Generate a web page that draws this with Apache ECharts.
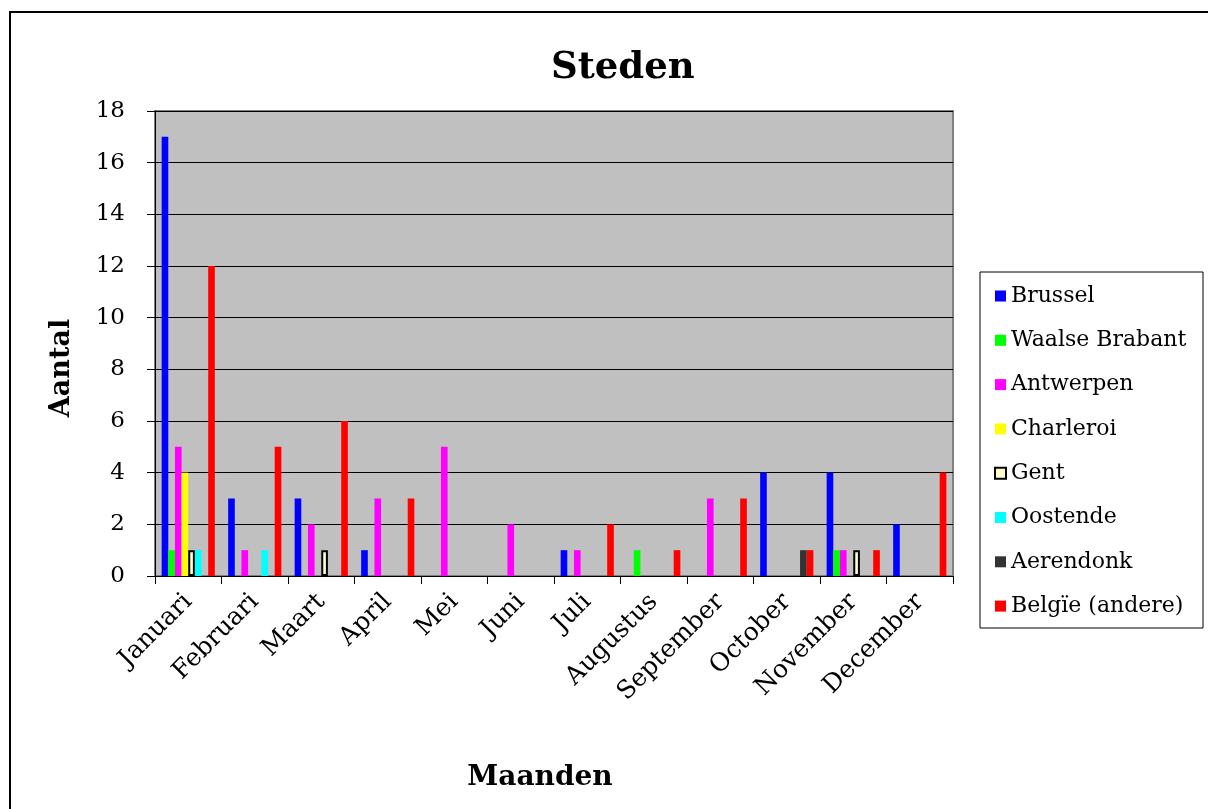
<!DOCTYPE html>
<html>
<head>
<meta charset="utf-8">
<title>Steden</title>
<script src="https://cdn.jsdelivr.net/npm/echarts@6/dist/echarts.min.js"></script>
<style>
  html, body { margin: 0; padding: 0; background: #fff; }
  #main { width: 1208px; height: 809px; }
</style>
</head>
<body>
<div id="main"></div>
<script>
// months on the x axis
var maanden = ['Januari', 'Februari', 'Maart', 'April', 'Mei', 'Juni', 'Juli',
  'Augustus', 'September', 'October', 'November', 'December'];

// counts per city, one value per month
var brussel       = [17, 3, 3, 1, 0, 0, 1, 0, 0, 4, 4, 2];
var waalseBrabant = [1, 0, 0, 0, 0, 0, 0, 1, 0, 0, 1, 0];
var antwerpen     = [5, 1, 2, 3, 5, 2, 1, 0, 3, 0, 1, 0];
var charleroi     = [4, 0, 0, 0, 0, 0, 0, 0, 0, 0, 0, 0];
var gent          = [1, 0, 1, 0, 0, 0, 0, 0, 0, 0, 1, 0];
var oostende      = [1, 1, 0, 0, 0, 0, 0, 0, 0, 0, 0, 0];
var aerendonk     = [0, 0, 0, 0, 0, 0, 0, 0, 0, 1, 0, 0];
var belgieAndere  = [12, 5, 6, 3, 0, 0, 2, 1, 3, 1, 1, 4];

var yTicks = [0, 2, 4, 6, 8, 10, 12, 14, 16, 18];

var FONT = 'DejaVu Serif';

var steden = [
  { name: 'Brussel', data: brussel, color: '#0000FF' },
  { name: 'Waalse Brabant', data: waalseBrabant, color: '#00FF00' },
  { name: 'Antwerpen', data: antwerpen, color: '#FF00FF' },
  { name: 'Charleroi', data: charleroi, color: '#FFFF00' },
  { name: 'Gent', data: gent, color: '#FFFFCC', border: '#000000' },
  { name: 'Oostende', data: oostende, color: '#00FFFF' },
  { name: 'Aerendonk', data: aerendonk, color: '#333333' },
  { name: 'Belgïe (andere)', data: belgieAndere, color: '#FF0000' }
];

var myChart = echarts.init(document.getElementById('main'));

var series = steden.map(function (s) {
  var style = { color: s.color };
  if (s.border) {
    style.borderColor = s.border;
    style.borderWidth = 2;
  }
  return {
    name: s.name,
    type: 'bar',
    barGap: 0,
    barCategoryGap: '20%',
    itemStyle: style,
    // zero counts are not drawn in the original
    data: s.data.map(function (v) { return v === 0 ? '-' : v; })
  };
});

var legendData = steden.map(function (s) {
  if (s.border) {
    return { name: s.name, itemStyle: { color: s.color, borderColor: s.border, borderWidth: 2 } };
  }
  return { name: s.name, itemStyle: { color: s.color, borderWidth: 0 } };
});

var option = {
  backgroundColor: '#ffffff',
  animation: false,
  title: {
    text: 'Steden',
    left: 546,
    top: 45,
    textStyle: { fontFamily: FONT, fontWeight: 'bold', fontSize: 37, color: '#000' }
  },
  legend: {
    orient: 'vertical',
    left: 994,
    top: 285,
    padding: 0,
    itemWidth: 11,
    itemHeight: 11,
    itemGap: 22.3,
    icon: 'rect',
    data: legendData,
    textStyle: { fontFamily: FONT, fontSize: 22, color: '#000' }
  },
  grid: {
    left: 155,
    right: 255,
    top: 111,
    bottom: 233,
    show: true,
    backgroundColor: '#C0C0C0',
    borderColor: '#808080',
    borderWidth: 2
  },
  xAxis: {
    type: 'category',
    data: maanden,
    axisLine: { show: true, lineStyle: { color: '#000', width: 1 } },
    axisTick: { show: true, interval: 0, length: 8, lineStyle: { color: '#000' } },
    axisLabel: {
      interval: 0,
      rotate: 45,
      margin: 22,
      fontFamily: FONT,
      fontSize: 25,
      color: '#000'
    },
    splitLine: { show: false }
  },
  yAxis: {
    type: 'value',
    min: yTicks[0],
    max: yTicks[yTicks.length - 1],
    interval: 2,
    axisLine: { show: true, lineStyle: { color: '#000', width: 1 } },
    axisTick: { show: true, length: 8, lineStyle: { color: '#000' } },
    axisLabel: { margin: 30, fontFamily: FONT, fontSize: 23, color: '#000' },
    splitLine: { show: true, lineStyle: { color: '#000', width: 1 } }
  },
  graphic: [
    {
      type: 'rect',
      silent: true,
      shape: { x: 10, y: 12, width: 1215, height: 820 },
      style: { fill: 'none', stroke: '#000', lineWidth: 2 }
    },
    {
      type: 'rect',
      silent: true,
      shape: { x: 980, y: 272, width: 223, height: 356 },
      style: { fill: 'none', stroke: '#000', lineWidth: 1 }
    },
    {
      // y axis title
      type: 'text',
      silent: true,
      x: 62,
      y: 368,
      rotation: Math.PI / 2,
      style: {
        text: 'Aantal',
        font: 'bold 27px "DejaVu Serif"',
        fill: '#000',
        align: 'center',
        verticalAlign: 'middle'
      }
    },
    {
      // x axis title
      type: 'text',
      silent: true,
      x: 540,
      y: 778,
      style: {
        text: 'Maanden',
        font: 'bold 28px "DejaVu Serif"',
        fill: '#000',
        align: 'center',
        verticalAlign: 'middle'
      }
    }
  ],
  series: series
};

myChart.setOption(option);
</script>
</body>
</html>
